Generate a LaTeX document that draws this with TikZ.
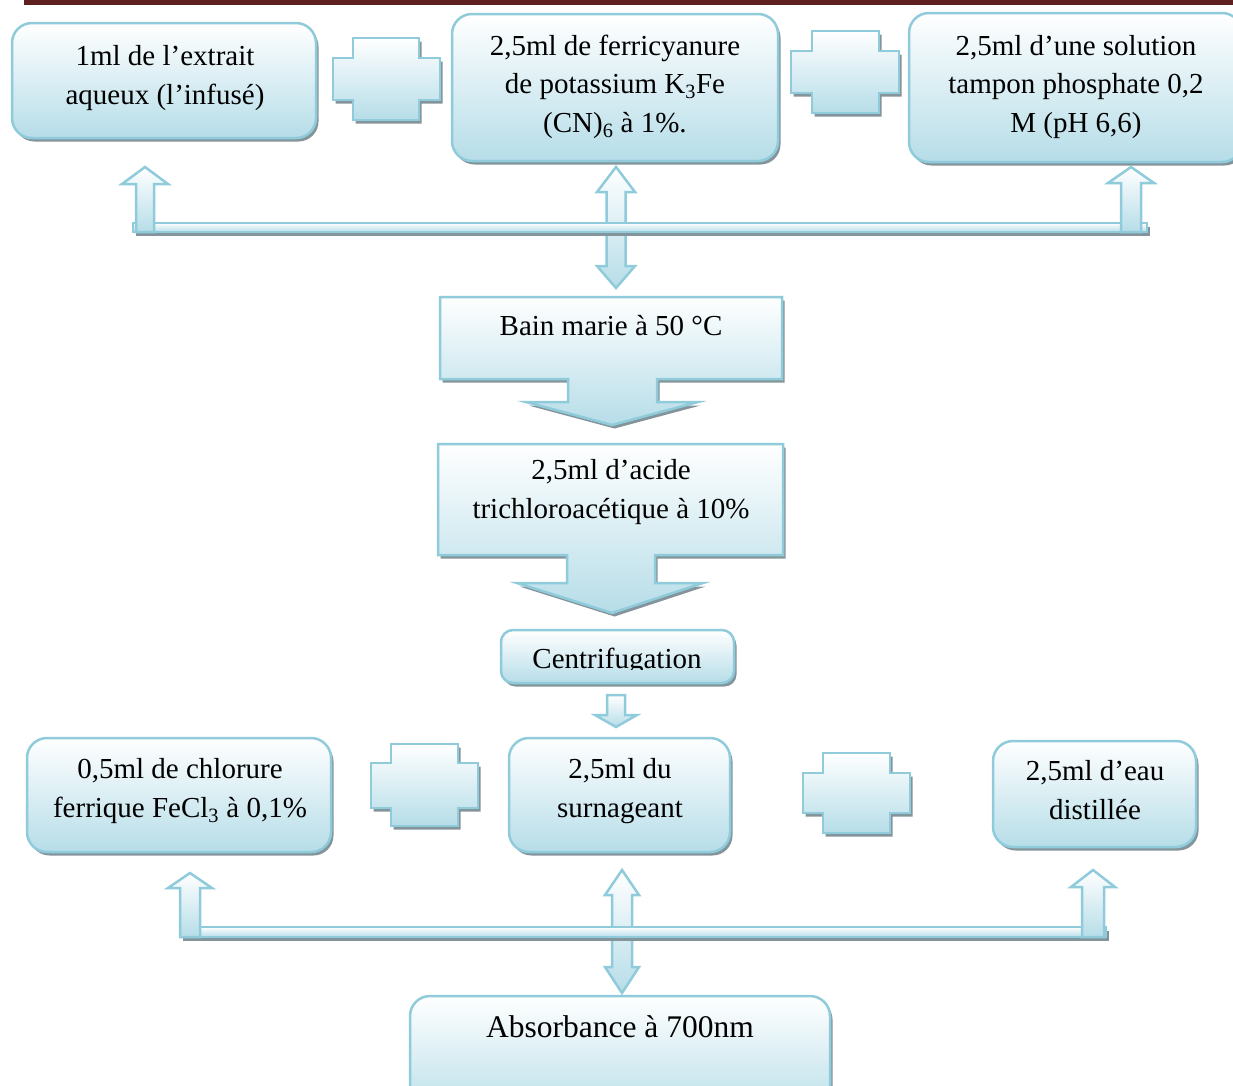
\documentclass[tikz,border=0pt]{standalone}
\usepackage{fontspec}
\setmainfont{Liberation Serif}
\usetikzlibrary{shadows}
\definecolor{bord}{HTML}{8FCBDA}
\definecolor{fillb}{HTML}{B6DDE8}
\definecolor{shadowc}{HTML}{84949B}
\definecolor{band}{HTML}{5E1F1F}
\tikzset{
  sh/.style={drop shadow={shadow xshift=2.5pt, shadow yshift=-3.5pt, fill=shadowc, opacity=1}},
  blk/.style={draw=bord, line width=2.5pt, top color=white, middle color=fillb!62, bottom color=fillb, line join=miter},
  rbox/.style={blk, sh, rounded corners=20pt, inner sep=0pt},
  sbox/.style={blk, sh, inner sep=0pt},
  txt/.style={font=\fontsize{29}{38.5}\selectfont, align=center, inner sep=0pt},
  bigtxt/.style={font=\fontsize{31.5}{41.9}\selectfont, align=center, inner sep=0pt},
}
\begin{document}
\begin{tikzpicture}[x=1pt,y=-1pt]
\useasboundingbox (0,0) rectangle (1233,1085);
\fill[band] (24,0) rectangle (1233,5);

% ---------- top row ----------
\node[rbox, minimum width=304pt, minimum height=115pt] (b1) at (164,80.5) {};
\node[rbox, minimum width=326pt, minimum height=147pt] (b2) at (615,87.5) {};
\node[rbox, minimum width=333pt, minimum height=149pt] (b3) at (1075.5,87.5) {};
\node[txt] (t1) at (165,77.5) {\strut 1ml de l’extrait\\aqueux (l’infusé)\strut};
\node[txt] (t2) at (615,86) {\strut 2,5ml de ferricyanure\\de potassium K\textsubscript{3}Fe\\(CN)\textsubscript{6} à 1\%.\strut};
\node[txt] (t3) at (1076,86) {\strut 2,5ml d’une solution\\tampon phosphate 0,2\\M (pH 6,6)\strut};

% plus signs
\path[blk, sh] (353,38) -- (419,38) -- (419,58) -- (440,58) -- (440,100) -- (419,100) -- (419,120) -- (353,120) -- (353,100) -- (333,100) -- (333,58) -- (353,58) -- cycle;
\path[blk, sh] (812,31) -- (879,31) -- (879,51) -- (899,51) -- (899,93) -- (879,93) -- (879,113) -- (812,113) -- (812,93) -- (791,93) -- (791,51) -- (812,51) -- cycle;

% middle double arrow (top)
\path[blk] (606.5,192) -- (597,192) -- (616,167) -- (635,192) -- (625.5,192) -- (625.5,266) -- (635,266) -- (616,288) -- (597,266) -- (606.5,266) -- cycle;
% top bar
\path[blk, sh] (133,223) rectangle (1147,232);
% side arrows
\path[blk] (136,232) -- (136,184) -- (122,184) -- (145,167) -- (168,184) -- (154,184) -- (154,232) -- cycle;
\path[blk] (1121,232) -- (1121,183) -- (1108,183) -- (1131,167) -- (1154,183) -- (1141,183) -- (1141,232) -- cycle;

% ---------- middle column ----------
\path[blk, sh] (440,297) -- (782,297) -- (782,379) -- (657,379) -- (657,402) -- (698,402) -- (612,425) -- (526,402) -- (568,402) -- (568,379) -- (440,379) -- cycle;
\node[txt] (bm) at (611,327.3) {\strut Bain marie à 50 °C\strut};

\path[blk, sh] (438,444) -- (783,444) -- (783,555) -- (655,555) -- (655,583) -- (703,583) -- (612,613) -- (517,583) -- (567,583) -- (567,555) -- (438,555) -- cycle;
\node[txt] (tca) at (611,491.5) {\strut 2,5ml d’acide\\trichloroacétique à 10\%\strut};

\node[rbox, rounded corners=12pt, minimum width=233pt, minimum height=53pt] (bc) at (617.5,656.5) {};
\begin{scope}
\clip (480,600) rectangle (760,669);
\node[txt] (tc) at (617,660.5) {\strut Centrifugation\strut};
\end{scope}

\path[blk] (607,695) -- (625,695) -- (625,715) -- (637,715) -- (616,727) -- (595,715) -- (607,715) -- cycle;

% ---------- bottom row ----------
\node[rbox, minimum width=304pt, minimum height=114pt] (b4) at (179,795) {};
\node[rbox, minimum width=221pt, minimum height=114pt] (b5) at (619.5,795) {};
\node[rbox, minimum width=203pt, minimum height=106pt] (b6) at (1094.5,794) {};
\node[txt] (t4) at (180,790.5) {\strut 0,5ml de chlorure\\ferrique FeCl\textsubscript{3} à 0,1\%\strut};
\node[txt] (t5) at (620,790.5) {\strut 2,5ml du\\surnageant\strut};
\node[txt] (t6) at (1095,792.5) {\strut 2,5ml d’eau\\distillée\strut};

\path[blk, sh] (391,744) -- (458,744) -- (458,763) -- (478,763) -- (478,808) -- (458,808) -- (458,826) -- (391,826) -- (391,808) -- (371,808) -- (371,763) -- (391,763) -- cycle;
\path[blk, sh] (823,753) -- (890,753) -- (890,773) -- (910,773) -- (910,813) -- (890,813) -- (890,833) -- (823,833) -- (823,813) -- (803,813) -- (803,773) -- (823,773) -- cycle;

% middle double arrow (bottom)
\path[blk] (612,895) -- (605,895) -- (622,870) -- (639,895) -- (632,895) -- (632,967) -- (639,967) -- (622,993) -- (605,967) -- (612,967) -- cycle;
% bottom bar
\path[blk, sh] (180,927) rectangle (1106,937);
\path[blk] (180,937) -- (180,888) -- (168,888) -- (190,873) -- (212,888) -- (200,888) -- (200,937) -- cycle;
\path[blk] (1082,937) -- (1082,887) -- (1071,887) -- (1093,870) -- (1115,887) -- (1104,887) -- (1104,937) -- cycle;

\node[rbox, minimum width=420pt, minimum height=124pt] (b7) at (620,1058) {};
\node[bigtxt] (t7) at (620,1029.6) {\strut Absorbance à 700nm\strut};
\end{tikzpicture}
\end{document}
